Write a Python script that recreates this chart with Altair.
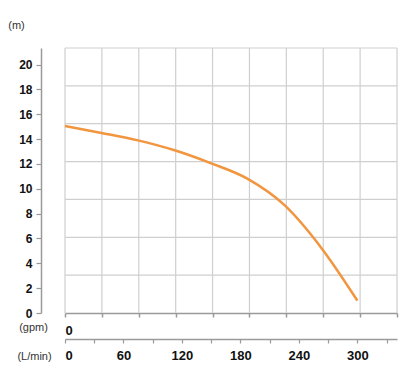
import altair as alt
import pandas as pd

# Pump curve: flow (L/min) vs head (m)
flow_lpm = [0, 37.5, 75, 112.5, 150, 187.5, 225, 262.5, 300]
head_m = [15.05, 14.5, 13.9, 13.1, 12.05, 10.8, 8.7, 5.3, 1.0]

# grid in imperial units (10 gpm / 10 ft steps)
grid_gpm = [0, 10, 20, 30, 40, 50, 60, 70, 80, 90]
grid_ft = [10, 20, 30, 40, 50, 60, 70]
GPM_TO_LPM = 3.78541
FT_TO_M = 0.3048

y_ticks = [0, 2, 4, 6, 8, 10, 12, 14, 16, 18, 20]
lpm_ticks = [0, 30, 60, 90, 120, 150, 180, 210, 240, 270, 300, 330]

xmax = 90 * GPM_TO_LPM
ymax = 70 * FT_TO_M

xs = alt.Scale(domain=[0, xmax], nice=False, zero=False)
ys = alt.Scale(domain=[0, ymax], nice=False, zero=False)

curve = pd.DataFrame({"q": flow_lpm, "h": head_m})
vgrid = pd.DataFrame({"q": [g * GPM_TO_LPM for g in grid_gpm]})
hgrid = pd.DataFrame({"h": [f * FT_TO_M for f in grid_ft]})

GRID = "#cfcfcf"
AXIS = "#9a9a9a"
FONT = "Liberation Sans"

y_axis = alt.Axis(
    orient="left", offset=24, values=y_ticks, grid=False,
    domainColor=AXIS, domainWidth=1.5, tickColor=AXIS, tickSize=5, tickWidth=1.2,
    labelFont=FONT, labelFontSize=12, labelFontWeight="bold", labelColor="#111",
    labelPadding=4,
    title="(m)", titleFont=FONT, titleFontSize=11, titleFontWeight="normal",
    titleColor="#333", titleAngle=0, titleX=-25, titleY=-23,
    titleAlign="center", titleBaseline="middle")

vlines = alt.Chart(vgrid).mark_rule(color=GRID, strokeWidth=1.2).encode(
    x=alt.X("q:Q", scale=xs, axis=alt.Axis(
        orient="bottom", offset=0, values=[g * GPM_TO_LPM for g in grid_gpm],
        grid=False, domainColor=AXIS, domainWidth=1.5, tickColor=AXIS, tickSize=4,
        tickWidth=1.5,
        labelExpr="datum.value == 0 ? '0' : ''", labelFont=FONT, labelFontSize=13,
        labelFontWeight="bold", labelColor="#111", labelPadding=7,
        title="(gpm)", titleFont=FONT, titleFontSize=11, titleFontWeight="normal",
        titleColor="#333", titleAngle=0, titleX=-32, titleY=14,
        titleAlign="center", titleBaseline="middle"))
)

hlines = alt.Chart(hgrid).mark_rule(color=GRID, strokeWidth=1.2).encode(
    y=alt.Y("h:Q", scale=ys, axis=y_axis)
)

line = alt.Chart(curve).mark_line(color="#F2953F", strokeWidth=2.5, interpolate="monotone").encode(
    x=alt.X("q:Q", scale=xs, axis=alt.Axis(
        orient="bottom", offset=26, values=lpm_ticks, grid=False,
        domainColor=AXIS, domainWidth=1.5, tickColor=AXIS, tickSize=4, tickWidth=1.2,
        labelExpr="datum.value % 60 == 0 ? datum.label : ''",
        labelFont=FONT, labelFontSize=13, labelFontWeight="bold", labelColor="#111",
        labelPadding=6,
        title="(L/min)", titleFont=FONT, titleFontSize=11, titleFontWeight="normal",
        titleColor="#333", titleAngle=0, titleX=-31, titleY=17,
        titleAlign="center", titleBaseline="middle")),
    y=alt.Y("h:Q", scale=ys, axis=y_axis),
)

chart = alt.layer(vlines, hlines, line).resolve_axis(x="independent").properties(
    width=332, height=265,
    autosize=alt.AutoSizeParams(type="none"),
    padding={"left": 57, "top": 40, "right": 15, "bottom": 55},
    background="white",
).configure_view(stroke=None)

chart.save("out.html", embed_options={"renderer": "svg", "actions": False})
